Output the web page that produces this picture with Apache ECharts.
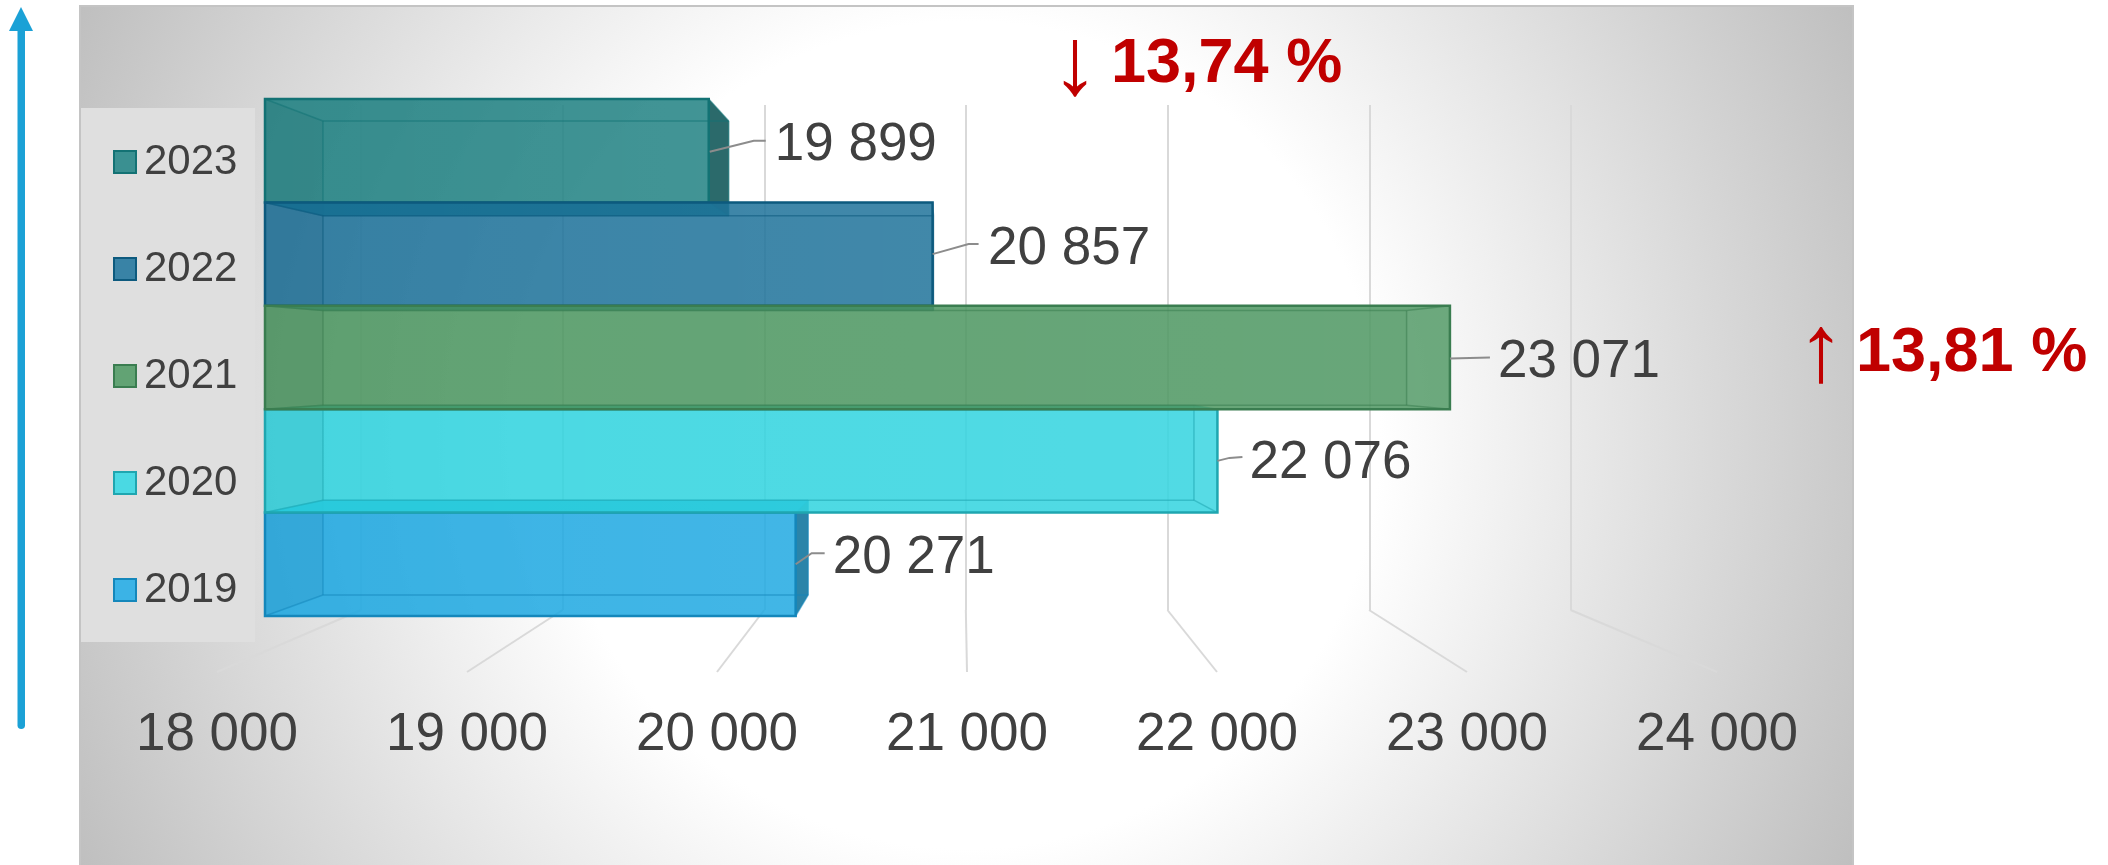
<!DOCTYPE html>
<html>
<head>
<meta charset="utf-8">
<style>html,body{margin:0;padding:0;background:#fff}#c{width:2108px;height:865px}</style>
<script src="https://cdn.jsdelivr.net/npm/echarts@6/dist/echarts.min.js"></script>
</head>
<body>
<div id="c"></div>
<script>
// ---- data ----
const years = ['2019', '2020', '2021', '2022', '2023'];
const values = [20271, 22076, 23071, 20857, 19899];
const axisTicks = [18000, 19000, 20000, 21000, 22000, 23000, 24000];
const notes = ['↓ 13,74 %', '↑ 13,81 %'];

// ---- styling (not data) ----
const FONT = '"Liberation Sans", Arial, sans-serif';
const TXT = '#404040';
const RED = '#c00000';
const fills = ['#18a6e1', '#2ad2de', '#46935c', '#166d96', '#177c7e'];
const swatches = ['#3bb3e6', '#4ad9e3', '#62a374', '#3983a6', '#3a9091'];
const edges = ['#1487bb', '#1fa6b0', '#3a7d50', '#0d5a7e', '#137274'];
const paintOrder = [5, 6, 7, 6, 5];
const labelNudge = [[37, -6], [32, 2.5], [48, 5], [55.5, -4.5], [66, -5]];
const leaderNudge = [
  [[0, 0], [16, -11], [29, -11]],
  [[0, 0], [12, -3], [25, -4]],
  [[0, 1], [40, 0]],
  [[0, 0], [36, -10], [46, -10]],
  [[1, 1], [45, -10], [57, -10]]
];
// perspective: the rear plane of the bars is the front plane shrunk towards a vanishing point
const VP = [943, 363], DEPTH_X = 0.9145, DEPTH_Y = 0.9168;
// wall / floor projection of the value gridlines
const FLOOR_VX = 961, WALL_K = 0.8064, WALL_Y = 610;

const fmt = v => String(v).replace(/\B(?=(\d{3})+$)/g, ' ');
const rear = p => [VP[0] + DEPTH_X * (p[0] - VP[0]), VP[1] + DEPTH_Y * (p[1] - VP[1])];

function hull(pts) {
  const s = pts.slice().sort((a, b) => a[0] - b[0] || a[1] - b[1]);
  const cr = (o, a, b) => (a[0] - o[0]) * (b[1] - o[1]) - (a[1] - o[1]) * (b[0] - o[0]);
  const lo = [], up = [];
  s.forEach(p => { while (lo.length > 1 && cr(lo[lo.length - 2], lo[lo.length - 1], p) <= 0) lo.pop(); lo.push(p); });
  s.slice().reverse().forEach(p => { while (up.length > 1 && cr(up[up.length - 2], up[up.length - 1], p) <= 0) up.pop(); up.push(p); });
  return lo.slice(0, -1).concat(up.slice(0, -1));
}

function barRenderer(i) {
  return function (params, api) {
    const c = api.coord([api.value(0), api.value(1)]);
    const x0 = api.coord([axisTicks[0], api.value(1)])[0];
    const h = api.size([0, 1])[1];
    const x1 = c[0], yT = c[1] - h / 2, yB = c[1] + h / 2;
    const f = [[x0, yT], [x1, yT], [x1, yB], [x0, yB]];
    const b = f.map(rear);
    const edge = edges[i];
    const poly = (points, fill, extra) => ({
      type: 'polygon', shape: { points }, silent: true,
      style: Object.assign({ fill: fill, stroke: 'none' }, extra || {})
    });
    const ln = (p, q, w, op) => ({
      type: 'line', silent: true, shape: { x1: p[0], y1: p[1], x2: q[0], y2: q[1] },
      style: { stroke: edge, lineWidth: w, opacity: op }
    });
    // the top or bottom face that sticks out of the front rectangle
    const overflow = b[2][1] > f[2][1] ? [f[3], f[2], b[2], b[3]] : [f[0], f[1], b[1], b[0]];
    const children = [
      poly(hull(f.concat(b)), fills[i], { opacity: 0.85 }),
      poly(overflow, edge, { opacity: b[2][1] > f[2][1] || b[0][1] < f[0][1] ? 0.5 : 0 }),
      // soft lightening towards the right of the box
      poly(f, new echarts.graphic.LinearGradient(0, 0, 1, 0, [
        { offset: 0, color: 'rgba(255,255,255,0)' },
        { offset: 1, color: 'rgba(255,255,255,0.04)' }
      ])),
      poly([f[0], b[0], b[3], f[3]], 'rgba(0,0,0,0.035)'),
      poly([f[1], b[1], b[2], f[2]], b[1][0] > f[1][0] ? 'rgba(0,0,0,0.26)' : 'rgba(255,255,255,0.04)'),
      // rear rectangle and corner edges
      ln(b[0], b[1], 1.5, 0.55), ln(b[1], b[2], 1.5, 0.55), ln(b[2], b[3], 1.5, 0.55), ln(b[3], b[0], 1.5, 0.55),
      ln(f[0], b[0], 1.5, 0.55), ln(f[1], b[1], 1.5, 0.55), ln(f[2], b[2], 1.5, 0.55), ln(f[3], b[3], 1.5, 0.55),
      { type: 'rect', silent: true, shape: { x: x0, y: yT, width: x1 - x0, height: h },
        style: { fill: 'none', stroke: edge, lineWidth: 2.5 } },
      { type: 'polyline', silent: true,
        shape: { points: leaderNudge[i].map(p => [x1 + p[0], c[1] + p[1]]) },
        style: { fill: 'none', stroke: '#8c8c8c', lineWidth: 2 } },
      { type: 'text', silent: true,
        style: { text: fmt(api.value(0)), x: x1 + labelNudge[i][0], y: c[1] + labelNudge[i][1],
          fill: TXT, font: '53px ' + FONT, align: 'left', verticalAlign: 'middle' } }
    ];
    return { type: 'group', children };
  };
}

function floorRenderer(params, api) {
  const p = api.coord([api.value(0), 0]);
  const wx = FLOOR_VX + WALL_K * (p[0] - FLOOR_VX);
  return { type: 'line', silent: true,
    shape: { x1: wx, y1: WALL_Y, x2: p[0], y2: p[1] },
    style: { stroke: '#d9d9d9', lineWidth: 2 } };
}

const hiddenVal = idx => ({ type: 'value', gridIndex: idx, show: false, min: 0, max: 1 });

const barSeries = years.map((y, i) => ({
  type: 'custom', name: y, coordinateSystem: 'cartesian2d',
  xAxisIndex: 0, yAxisIndex: 0, z: paintOrder[i], clip: false,
  encode: { x: 0, y: 1 }, silent: true,
  itemStyle: { color: swatches[i], borderColor: edges[i], borderWidth: 2 },
  renderItem: barRenderer(i),
  data: [[values[i], y]]
}));

const noteText = (str, arrowX, arrowY, numX, numY) => [
  { type: 'text', z: 20, silent: true, x: arrowX, y: arrowY,
    style: { text: str.slice(0, 1), font: '96px ' + FONT, fill: RED, align: 'center', verticalAlign: 'middle' } },
  { type: 'text', z: 20, silent: true, x: numX, y: numY,
    style: { text: str.slice(2), font: 'bold 63px ' + FONT, fill: RED, align: 'left', verticalAlign: 'middle' } }
];

const option = {
  animation: false,
  backgroundColor: '#fff',
  textStyle: { fontFamily: FONT },
  legend: {
    orient: 'vertical', left: 113, top: 141, itemGap: 65, padding: 0,
    itemWidth: 22, itemHeight: 22, icon: 'rect',
    selectedMode: false,
    data: years.slice().reverse(),
    textStyle: { fontSize: 42, color: TXT, fontFamily: FONT, padding: [0, 0, 0, 3] },
    formatter: n => n
  },
  grid: [
    { left: 265, top: 99, width: 1402, height: 517 },
    { left: 361, top: 105, width: 1210, height: 505 },
    { left: 217, top: 671, width: 1500, height: 1 }
  ],
  xAxis: [
    { type: 'value', gridIndex: 0, min: 18000, max: 24000, interval: 1000, show: false },
    { type: 'value', gridIndex: 1, min: 18000, max: 24000, interval: 1000,
      axisLine: { show: false }, axisTick: { show: false }, axisLabel: { show: false },
      splitLine: { show: true, lineStyle: { color: '#d9d9d9', width: 2 } } },
    { type: 'value', gridIndex: 2, min: 18000, max: 24000, interval: 1000,
      axisLine: { show: false }, axisTick: { show: false }, splitLine: { show: false },
      axisLabel: { show: true, margin: 37, fontSize: 53, color: TXT, fontFamily: FONT,
        showMinLabel: true, showMaxLabel: true, hideOverlap: false, formatter: v => fmt(v) } }
  ],
  yAxis: [
    { type: 'category', gridIndex: 0, data: years, show: false },
    hiddenVal(1),
    hiddenVal(2)
  ],
  graphic: [
    { type: 'rect', z: -10, silent: true, shape: { x: 80, y: 6, width: 1773, height: 870 },
      style: { stroke: '#c4c4c4', lineWidth: 2,
        fill: new echarts.graphic.RadialGradient(966, 435, 985, [
          { offset: 0, color: '#ffffff' }, { offset: 0.42, color: '#ffffff' }, { offset: 1, color: '#bfbfbf' }
        ], true) } },
    { type: 'rect', z: -9, silent: true, shape: { x: 81, y: 108, width: 174, height: 534 },
      style: { fill: '#dfdfdf' } },
    { type: 'polygon', z: 20, silent: true, shape: { points: [[21, 7], [33, 31], [9, 31]] }, style: { fill: '#1ba1d6' } },
    { type: 'rect', z: 20, silent: true, shape: { x: 17.5, y: 30, width: 7.5, height: 699, r: [0, 0, 4, 4] }, style: { fill: '#1ba1d6' } }
  ].concat(noteText(notes[0], 1075, 68, 1111, 65), noteText(notes[1], 1821, 355, 1856, 354)),
  series: [
    {
      type: 'custom', name: 'floor', coordinateSystem: 'cartesian2d', xAxisIndex: 2, yAxisIndex: 2,
      z: 1, silent: true, clip: false, encode: { x: 0 }, renderItem: floorRenderer,
      data: axisTicks.map(v => [v])
    }
  ].concat(barSeries)
};

const chart = echarts.init(document.getElementById('c'), null, { renderer: 'canvas' });
chart.setOption(option);
</script>
</body>
</html>
